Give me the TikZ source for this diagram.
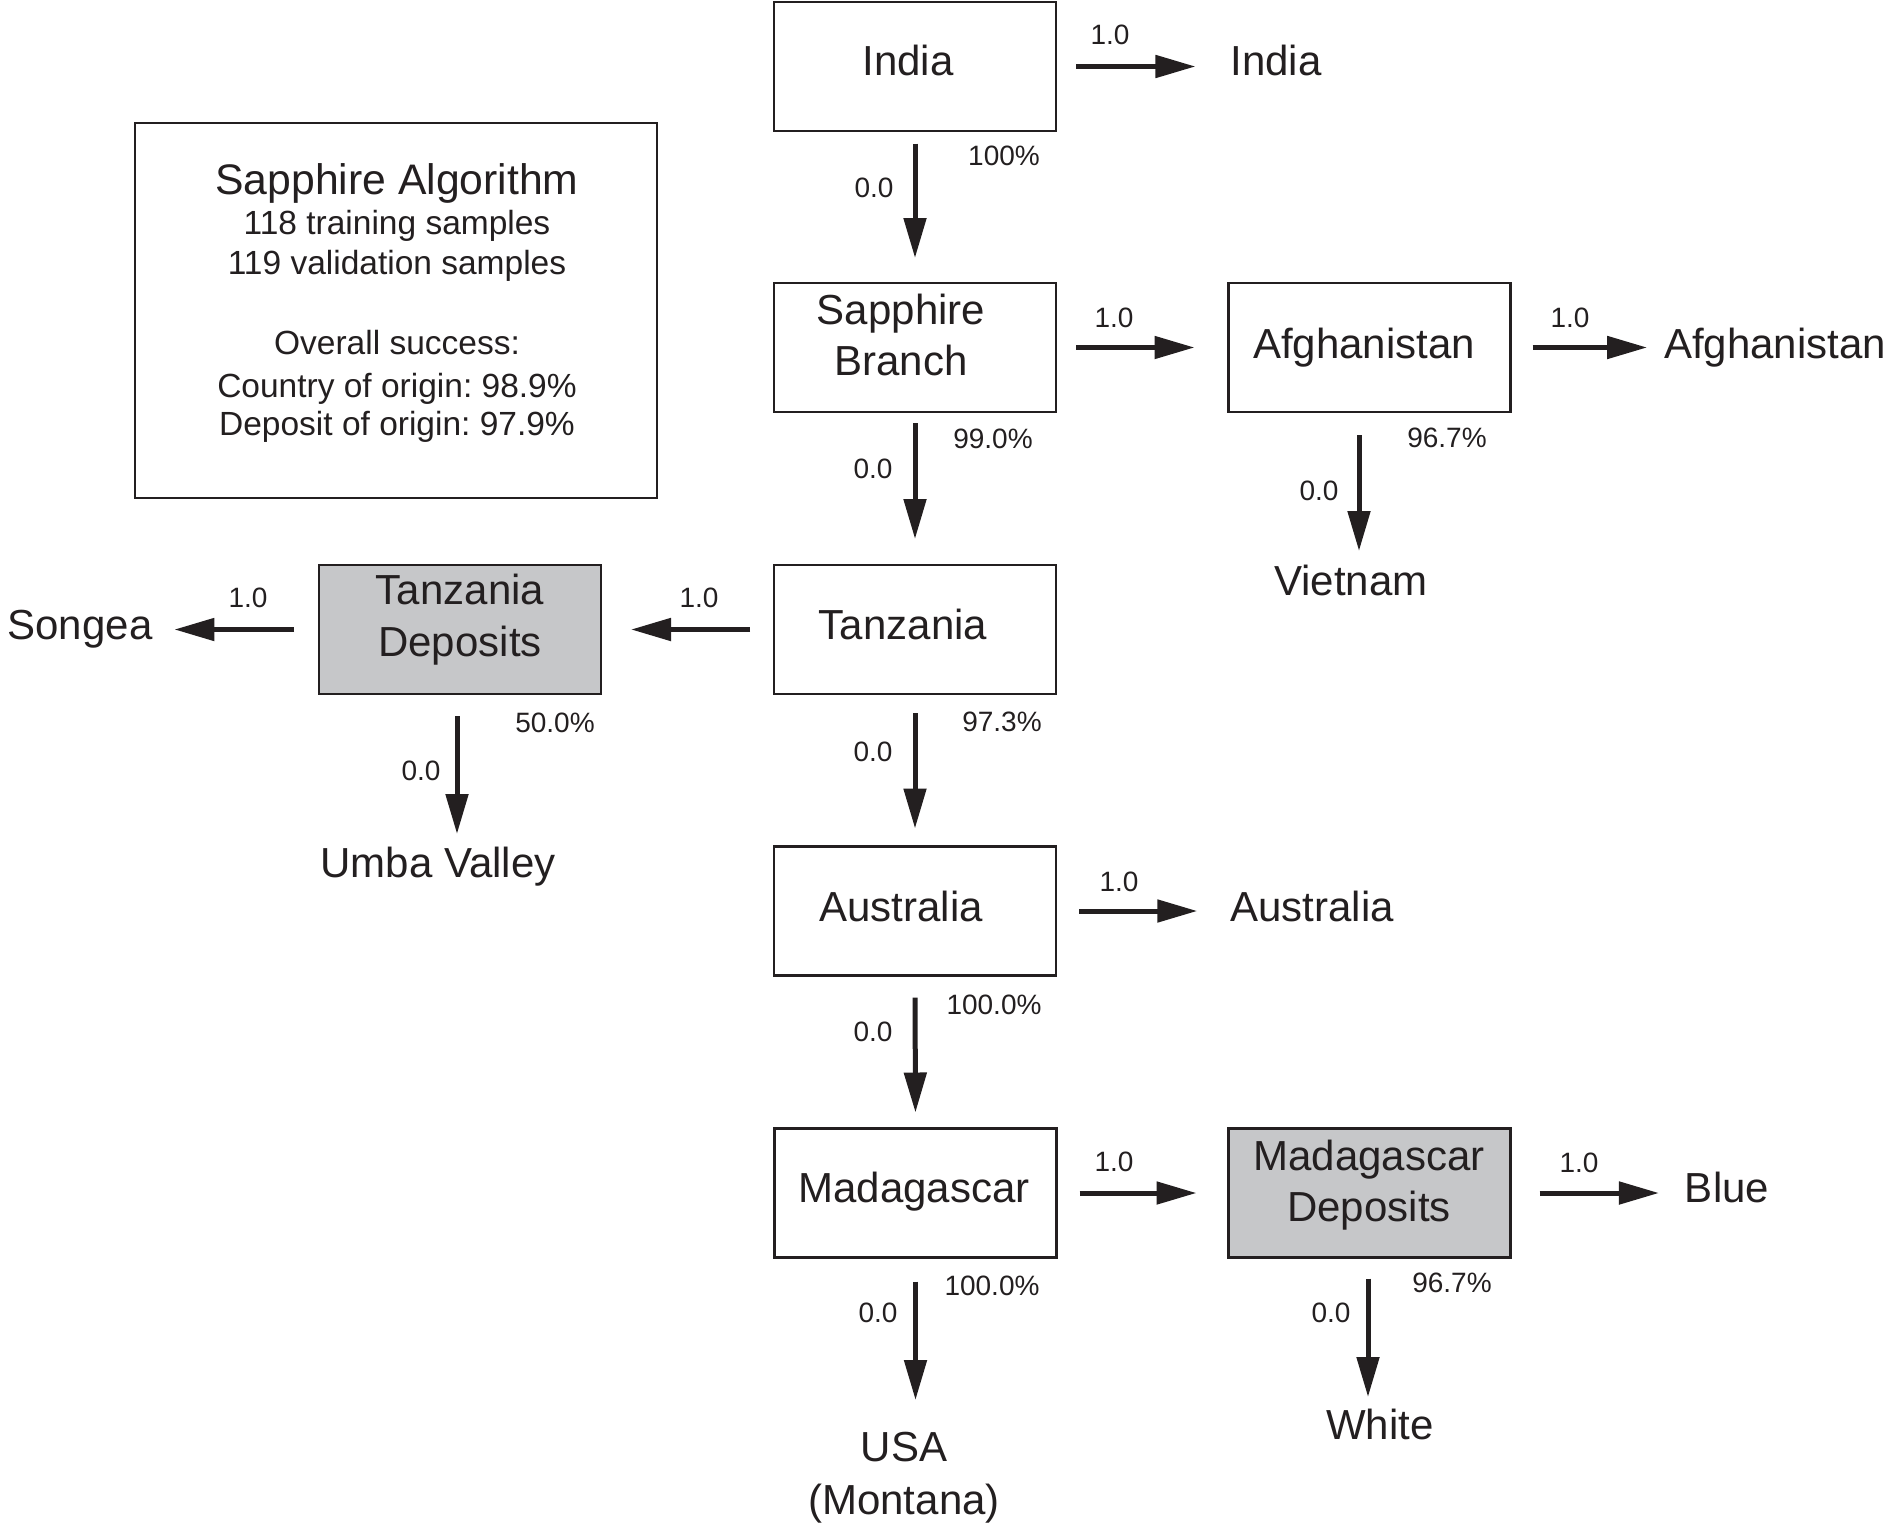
\documentclass[tikz,border=0pt]{standalone}
\usepackage{fontspec}
\setmainfont{Liberation Sans}
\usetikzlibrary{arrows.meta}
\definecolor{ink}{RGB}{35,31,32}
\definecolor{boxgray}{RGB}{198,199,201}
\begin{document}
\frenchspacing
\begin{tikzpicture}[x=1pt,y=-1pt,
  box/.style={draw=ink, line width=2.5pt, minimum width=282pt, minimum height=129pt, inner sep=0pt, outer sep=0pt},
  gbox/.style={box, fill=boxgray},
  big/.style={text=ink, inner sep=0pt, outer sep=0pt, font=\fontsize{42}{51}\selectfont, align=center, text height=30pt, text depth=0pt},
  lab/.style={text=ink, inner sep=0pt, outer sep=0pt, font=\fontsize{28}{34}\selectfont, text height=20pt, text depth=0pt},
  info/.style={text=ink, inner sep=0pt, outer sep=0pt, font=\fontsize{33.5}{40}\selectfont, text height=24pt, text depth=0pt},
  arr/.style={draw=ink, line width=5pt, -{Triangle[length=40pt,width=22pt]}}
]
\fill[white] (0,0) rectangle (1896,1526);
\useasboundingbox (0,0) rectangle (1896,1526);

% info box
\node[draw=ink, line width=2.5pt, minimum width=522pt, minimum height=375pt, inner sep=0pt] (infobox) at (396,310.5) {};
\node[info, font=\fontsize{42.7}{51}\selectfont, text height=30.5pt] (info1) at (397,179) {Sapphire Algorithm};
\node[info] (info2) at (397,222.5) {118 training samples};
\node[info] (info3) at (397,262) {119 validation samples};
\node[info] (info4) at (397,342) {Overall success:};
\node[info] (info5) at (397,385) {Country of origin: 98.9\%};
\node[info] (info6) at (397,423.5) {Deposit of origin: 97.9\%};

% boxes (multi-line labels are placed by their last line)
\node[box] (india) at (915,66.5) {};
\node[big] (indiaT) at (908,60) {India};
\node[box] (sapph) at (915,347.5) {};
\node[big] (sapphT) at (901,360) {Sapphire\\Branch};
\node[box] (afg) at (1369.5,347.5) {};
\node[big] (afgT) at (1364,343) {Afghanistan};
\node[box] (tanz) at (915,629.5) {};
\node[big] (tanzT) at (903,624) {Tanzania};
\node[gbox] (td) at (460,629.5) {};
\node[big, font=\fontsize{42}{52}\selectfont] (tdT) at (460,641) {Tanzania\\Deposits};
\node[box] (aust) at (915,911) {};
\node[big] (austT) at (901,906) {Australia};
\node[box] (mada) at (915.5,1193) {};
\node[big] (madaT) at (914,1187) {Madagascar};
\node[gbox] (md) at (1369.5,1193) {};
\node[big] (mdT) at (1369,1206) {Madagascar\\Deposits};

% outcome texts
\node[big] (indiaO) at (1276,60) {India};
\node[big] (afgO) at (1775,343) {Afghanistan};
\node[big] (viet) at (1351,580) {Vietnam};
\node[big] (songea) at (80,624) {Songea};
\node[big] (umba) at (438,862) {Umba Valley};
\node[big] (austO) at (1312,906) {Australia};
\node[big] (blue) at (1727,1187) {Blue};
\node[big] (usa) at (904,1446) {USA};
\node[big] (montana) at (904,1499) {(Montana)};
\node[big] (white) at (1380,1424) {White};

% arrows
\draw[arr, shorten <=20pt, shorten >=35pt] (india.east) -- (india.east -| indiaO.west);
\draw[arr, shorten <=12.5pt, shorten >=25pt] (india.south) -- (sapph.north);
\draw[arr, shorten <=20pt, shorten >=34pt] (sapph.east) -- (afg.west);
\draw[arr, shorten <=22pt, shorten >=17pt] (afg.east) -- (afg.east -| afgO.west);
\draw[arr, shorten <=23pt, shorten >=14pt] ([xshift=-10.5pt]afg.south) -- ([xshift=-10.5pt]afg.south |- viet.north);
\draw[arr, shorten <=11pt, shorten >=26pt] (sapph.south) -- (tanz.north);
\draw[arr, shorten <=24pt, shorten >=30pt] (tanz.west) -- (td.east);
\draw[arr, shorten <=25pt, shorten >=22pt] (td.west) -- (td.west -| songea.east);
\draw[arr, shorten <=22pt, shorten >=13pt] ([xshift=-3pt]td.south) -- ([xshift=-3pt]td.south |- umba.north);
\draw[arr, shorten <=19pt, shorten >=18pt] (tanz.south) -- (aust.north);
\draw[arr, shorten <=23pt, shorten >=33pt] (aust.east) -- (aust.east -| austO.west);
\draw[arr, shorten <=22pt, shorten >=16pt] (aust.south) -- (mada.north);
\draw[arr, shorten <=23pt, shorten >=32pt] (mada.east) -- (md.west);
\draw[arr, shorten <=29pt, shorten >=26pt] (md.east) -- (md.east -| blue.west);
\draw[arr, shorten <=24pt, shorten >=31pt] (mada.south) -- (mada.south |- usa.north);
\draw[arr, shorten <=21pt, shorten >=12pt] ([xshift=-1.5pt]md.south) -- ([xshift=-1.5pt]md.south |- white.north);

% labels
\node[lab] (l1) at (1110,34) {1.0};
\node[lab] (l2) at (874,187) {0.0};
\node[lab] (l3) at (1004,155) {100\%};
\node[lab] (l4) at (1114,317) {1.0};
\node[lab] (l5) at (873,468) {0.0};
\node[lab] (l6) at (993,438) {99.0\%};
\node[lab] (l7) at (1570,317) {1.0};
\node[lab] (l8) at (1319,490) {0.0};
\node[lab] (l9) at (1447,437) {96.7\%};
\node[lab] (l10) at (699,597) {1.0};
\node[lab] (l11) at (248,597) {1.0};
\node[lab] (l12) at (421,770) {0.0};
\node[lab] (l13) at (555,722) {50.0\%};
\node[lab] (l14) at (873,751) {0.0};
\node[lab] (l15) at (1002,721) {97.3\%};
\node[lab] (l16) at (1119,881) {1.0};
\node[lab] (l17) at (873,1031) {0.0};
\node[lab] (l18) at (994,1004) {100.0\%};
\node[lab] (l19) at (1114,1161) {1.0};
\node[lab] (l20) at (1579,1162) {1.0};
\node[lab] (l21) at (878,1312) {0.0};
\node[lab] (l22) at (992,1285) {100.0\%};
\node[lab] (l23) at (1331,1312) {0.0};
\node[lab] (l24) at (1452,1282) {96.7\%};
\end{tikzpicture}
\end{document}
